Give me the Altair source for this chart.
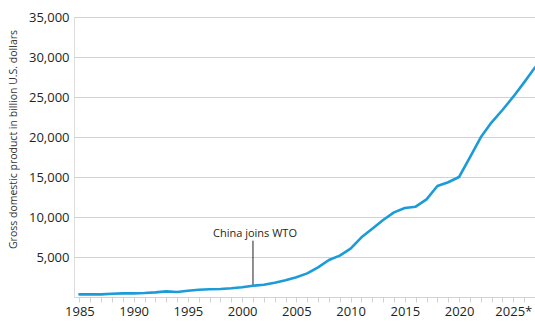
import altair as alt
import pandas as pd

# China's GDP, billion U.S. dollars (2025 onward marked as projection)
years = list(range(1985, 2028))
gdp = [333, 330, 330, 415, 455, 455, 500, 580, 705, 625,
       790, 915, 960, 1000, 1085, 1210, 1415, 1540, 1790, 2085,
       2460, 2950, 3710, 4625, 5170, 6040, 7460, 8540, 9625, 10580,
       11125, 11290, 12210, 13875, 14340, 15000, 17460, 19960, 21840, 23375,
       25040, 26830, 28700]

y_ticks = [5000, 10000, 15000, 20000, 25000, 30000, 35000]
x_ticks = list(range(1985, 2027))

event_year = 2001
event_label = "China joins WTO"
event_top = 7040
event_text_y = 7450

FONT = "Open Sans"
BLUE = "#1b9bd7"
GRID = "#d2d2d2"
TEXT = "#231f20"

df = pd.DataFrame({"year": years, "gdp": gdp})
event_value = gdp[years.index(event_year)]
ev = pd.DataFrame({"year": [event_year], "y": [event_value], "y2": [event_top],
                   "ty": [event_text_y], "label": [event_label]})

x_scale = alt.Scale(domain=[1984.5, 2027], nice=False, zero=False)
y_scale = alt.Scale(domain=[0, 35000], nice=False)

x_axis = alt.Axis(
    values=x_ticks, tickCount=len(x_ticks) + 5, format="d",
    labelExpr="datum.value % 5 === 0 ? (datum.value === 2025 ? '2025*' : datum.label) : ''",
    grid=False, domain=True, domainColor=GRID, domainWidth=1,
    ticks=True, tickColor=GRID, tickSize=5, tickWidth=1,
    labelFont=FONT, labelFontSize=13, labelColor=TEXT, labelPadding=3,
    labelFlush=False, labelOverlap=False, title=None,
)
y_axis = alt.Axis(
    values=y_ticks, tickCount=len(y_ticks) + 2, format=",d",
    grid=True, gridColor=GRID, gridWidth=1,
    domain=False, ticks=False,
    labelFont=FONT, labelFontSize=13, labelColor=TEXT, labelPadding=5,
    title="Gross domestic product in billion U.S. dollars",
    titleFont=FONT, titleFontSize=10.5, titleFontWeight="normal", titleColor="#333333",
    titleX=-58, titleY=122, titleAlign="center", titleBaseline="alphabetic", titleAngle=270,
)

line = alt.Chart(df).mark_line(
    color=BLUE, strokeWidth=2.6, interpolate="linear", strokeJoin="round", strokeCap="round"
).encode(
    x=alt.X("year:Q", scale=x_scale, axis=x_axis),
    y=alt.Y("gdp:Q", scale=y_scale, axis=y_axis),
)

rule = alt.Chart(ev).mark_rule(color="#231f20", strokeWidth=1).encode(
    x=alt.X("year:Q", scale=x_scale),
    y=alt.Y("y:Q", scale=y_scale),
    y2="y2:Q",
)

label = alt.Chart(ev).mark_text(
    font=FONT, fontSize=11, color=TEXT, align="center", baseline="alphabetic", dx=2
).encode(
    x=alt.X("year:Q", scale=x_scale),
    y=alt.Y("ty:Q", scale=y_scale),
    text="label:N",
)

chart = alt.layer(rule, line, label).properties(
    width=461, height=280,
    autosize=alt.AutoSizeParams(type="none"),
    padding={"left": 74, "top": 17, "right": 0, "bottom": 25},
).configure_view(stroke=None).configure(background="white")

chart.save("out.html", embed_options={"renderer": "svg", "actions": False})
